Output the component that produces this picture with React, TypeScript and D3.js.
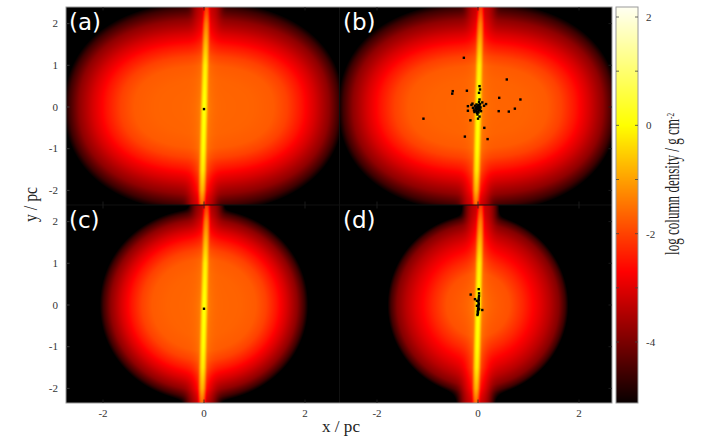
import React, { useMemo } from "react";
import * as d3 from "d3";

const W = 707, H = 442;
const columns = [{ left: 66, right: 339, zero: 204 }, { left: 340, right: 612, zero: 478 }];
const rows = [{ top: 7, bottom: 205, zero: 107 }, { top: 205, bottom: 403, zero: 305 }];
const pxPerX = 50.5, pxPerY = 41.7;

const xTicks = [-2, 0, 2];
const yTicks = [-2, -1, 0, 1, 2];
const cbTicks = [2, 0, -2, -4];
const cbMinorTicks = [1, -1, -3];

// colour map: log column density -> colour
const cmapValues = [-5.2, -2.7, 0, 2.3];
const cmapColors = ["#000000", "#ff0000", "#ffff00", "#ffffff"];

// envelope radial profiles (normalised radius -> log density)
const profileR = [0, 0.35, 0.5, 0.6, 0.7, 0.8, 0.9, 0.97, 1.03];
const profileWide = [-1.62, -1.66, -1.75, -2.02, -2.5, -3.1, -3.8, -4.6, -5.6];
const profileNarrow = [-1.6, -1.85, -2.3, -2.65, -3.0, -3.4, -3.9, -4.6, -5.6];

// thin disc: y -> peak log density
const stripY = [-2.4, -2, -1.5, -1, 0, 1, 1.5, 2, 2.4];
const stripV = [-1.8, -0.85, -0.25, -0.05, 0.05, -0.2, -0.75, -1.4, -2.2];

const panelLabels = ["(a)", "(b)", "(c)", "(d)"];
const semiX = [2.75, 2.75, 2.05, 1.78];
const semiY = [2.5, 2.5, 2.3, 2.16];
const shapeExp = [2.25, 2.25, 2.05, 2.0];
const aniso = [0.45, 0.45, 0.1, 0];
const sheathLevel = [-3.3, -3.3, -3.6, -3.3];
const panelProfiles = [profileWide, profileWide, profileWide, profileNarrow];

const starsA: [number, number][] = [[0, -0.05]];
const starsB: [number, number][] = [
  [-0.28, 1.18], [0.57, 0.66], [0.03, 0.5], [0.04, 0.42], [0.02, 0.34], [-0.22, 0.39], [-0.5, 0.38], [-0.51, 0.32],
  [0.42, 0.22], [0.84, 0.18], [0.03, 0.18], [0.02, 0.12], [0.16, 0.07], [0.085, 0.11], [-0.11, 0.08], [-0.2, 0.02],
  [0.12, 0.03], [0.41, -0.1], [0.61, -0.11], [0.73, -0.04], [-1.08, -0.28], [-0.15, -0.32], [0, -0.28], [0.03, -0.23],
  [0.125, -0.5], [-0.26, -0.71], [0.19, -0.77], [-0.2, -0.09], [-0.13, 0.05], [-0.1, -0.02], [-0.08, -0.08],
  [-0.06, 0.03], [-0.05, -0.03], [-0.04, -0.1], [-0.03, 0.06], [-0.02, -0.06], [-0.02, -0.14], [-0.01, 0.01],
  [0, -0.04], [0, -0.11], [0.01, 0.05], [0.02, -0.02], [0.02, -0.08], [0.03, 0.02], [0.04, -0.06], [0.05, -0.01],
  [-0.04, -0.04], [-0.02, 0], [0, 0.03], [0.01, -0.13], [-0.01, -0.18], [0.06, -0.1], [0.04, 0.07], [-0.07, -0.12],
];
const starsC: [number, number][] = [[0, -0.09]];
const starsD: [number, number][] = [
  [-0.145, 0.25], [0.014, 0.38], [0.085, -0.12], [-0.06, 0.14], [0.02, 0.28], [0.02, 0.22], [0.015, 0.17],
  [0.015, 0.12], [-0.02, 0.1], [0.01, 0.07], [0.015, 0.03], [0.01, 0], [0.005, -0.03], [0.01, -0.06], [0, -0.09],
  [0.005, -0.12], [-0.005, -0.15], [0, -0.18], [-0.005, -0.21], [-0.01, -0.24], [0.02, -0.1], [-0.02, -0.02],
];
const stars = [starsA, starsB, starsC, starsD];

const colorScale = d3.scaleLinear<string>().domain(cmapValues).range(cmapColors).clamp(true);
const strip = d3.scaleLinear().domain(stripY).range(stripV);

function panelImage(i: number, w: number, h: number, zx: number, zy: number): string {
  const profile = d3.scaleLinear().domain(profileR).range(panelProfiles[i]);
  const c = document.createElement("canvas");
  c.width = w; c.height = h;
  const ctx = c.getContext("2d")!;
  const img = ctx.createImageData(w, h);
  const p = shapeExp[i];
  for (let py = 0; py < h; py++) {
    for (let px = 0; px < w; px++) {
      const x = (px + 0.5 - zx) / pxPerX;
      const y = (zy - py - 0.5) / pxPerY;
      const ax = Math.abs(x / semiX[i]), ay = Math.abs(y / semiY[i]);
      const R0 = Math.pow(ax ** p + ay ** p, 1 / p);
      const stretch = 1 + aniso[i] * Math.max(0, 1 - R0);
      const R = Math.pow(ax ** p + (ay * stretch) ** p, 1 / p);
      const env = Math.pow(10, profile(R));
      const dx = x - (0.005 + 0.02 * y);
      const sv = strip(y);
      const core = Math.pow(10, sv) * Math.exp(-(dx * dx) / (2 * 0.028 * 0.028));
      const halo = Math.pow(10, sv - 1.3) * Math.exp(-Math.abs(dx) / 0.07);
      const sheath = Math.pow(10, sheathLevel[i]) * Math.exp(-Math.pow(Math.abs(dx) / 0.22, 3));
      const v = Math.log10(env + core + halo + sheath);
      const col = d3.rgb(colorScale(v));
      const k = (py * w + px) * 4;
      img.data[k] = col.r; img.data[k + 1] = col.g; img.data[k + 2] = col.b; img.data[k + 3] = 255;
    }
  }
  ctx.putImageData(img, 0, 0);
  return c.toDataURL();
}

function barImage(h: number, scale: d3.ScaleLinear<number, number>): string {
  const c = document.createElement("canvas");
  c.width = 1; c.height = h;
  const ctx = c.getContext("2d")!;
  for (let p = 0; p < h; p++) {
    ctx.fillStyle = colorScale(scale.invert(p + 0.5));
    ctx.fillRect(0, p, 1, 1);
  }
  return c.toDataURL();
}

const serif = "'Liberation Serif', serif";
const frame = "#9a9a9a";

export default function App() {
  const cbScale = useMemo(() => d3.scaleLinear().domain([2, -4]).range([17, 342]), []);
  const cbTop = 7, cbBottom = 403, cbLeft = 616, cbRight = 638;
  const images = useMemo(() => {
    const out: { i: number; href: string; x: number; y: number; w: number; h: number }[] = [];
    rows.forEach((r, ri) => columns.forEach((col, ci) => {
      const i = ri * 2 + ci;
      const w = col.right - col.left, h = r.bottom - r.top;
      out.push({ i, href: panelImage(i, w, h, col.zero - col.left, r.zero - r.top), x: col.left, y: r.top, w, h });
    }));
    return out;
  }, []);
  const bar = useMemo(() => {
    const s = cbScale.copy().range([17 - cbTop, 342 - cbTop]);
    return barImage(cbBottom - cbTop, s);
  }, [cbScale]);

  return (
    <svg width={W} height={H} style={{ position: "absolute", left: 0, top: 0, background: "#fff" }}>
      {images.map(im => {
        const col = columns[im.i % 2], r = rows[Math.floor(im.i / 2)];
        const sx = d3.scaleLinear().domain([0, 1]).range([col.zero, col.zero + pxPerX]);
        const sy = d3.scaleLinear().domain([0, 1]).range([r.zero, r.zero - pxPerY]);
        return (
          <g key={im.i}>
            <image href={im.href} x={im.x} y={im.y} width={im.w} height={im.h} style={{ imageRendering: "pixelated" }} />
            {stars[im.i].map((p, k) => (
              <rect key={k} x={sx(p[0]) - 1.2} y={sy(p[1]) - 1.2} width={2.4} height={2.4} fill="#000" />
            ))}
            <text x={im.x + 3} y={im.y + 23} fill="#fff" fontFamily="'DejaVu Sans', sans-serif" fontSize={23}>
              {panelLabels[im.i]}
            </text>
          </g>
        );
      })}
      {/* panel frames and ticks */}
      <line x1={66} x2={612} y1={205} y2={205} stroke="#111" strokeWidth={1} />
      <line x1={339.5} x2={339.5} y1={7} y2={403} stroke="#111" strokeWidth={1} />
      <rect x={66} y={7} width={546} height={396} fill="none" stroke={frame} strokeWidth={1} />
      {columns.map((col, ci) => xTicks.map(t => {
        const x = col.zero + t * pxPerX;
        return (
          <g key={`${ci}${t}`}>
            {rows.map((r, ri) => (
              <g key={ri}>
                <line x1={x} x2={x} y1={r.top} y2={r.top + 3.5} stroke="#222" strokeWidth={0.8} />
                <line x1={x} x2={x} y1={r.bottom} y2={r.bottom - 3.5} stroke="#222" strokeWidth={0.8} />
              </g>
            ))}
            <text x={x} y={417} textAnchor="middle" fontFamily={serif} fontSize={11} fill="#333">{t}</text>
          </g>
        );
      }))}
      {rows.map((r, ri) => yTicks.map(t => {
        const y = r.zero - t * pxPerY;
        return (
          <g key={`${ri}${t}`}>
            <line x1={66} x2={69.5} y1={y} y2={y} stroke="#444" strokeWidth={0.8} />
            <line x1={612} x2={608.5} y1={y} y2={y} stroke="#222" strokeWidth={0.8} />
            <text x={58} y={y + 3.5} textAnchor="end" fontFamily={serif} fontSize={11} fill="#333">{t}</text>
          </g>
        );
      }))}
      <text x={341} y={432} textAnchor="middle" fontFamily={serif} fontSize={16} fill="#222" textLength={38} lengthAdjust="spacingAndGlyphs">x / pc</text>
      <text transform="translate(36.5,204.5) rotate(-90)" textAnchor="middle" fontFamily={serif} fontSize={19} fill="#222" textLength={35} lengthAdjust="spacingAndGlyphs">y / pc</text>

      {/* colour bar */}
      <image href={bar} x={cbLeft} y={cbTop} width={cbRight - cbLeft} height={cbBottom - cbTop} preserveAspectRatio="none" />
      <rect x={cbLeft} y={cbTop} width={cbRight - cbLeft} height={cbBottom - cbTop} fill="none" stroke={frame} strokeWidth={1} />
      {[...cbTicks, ...cbMinorTicks].map(t => (
        <g key={t}>
          <line x1={cbLeft} x2={cbLeft + 3} y1={cbScale(t)} y2={cbScale(t)} stroke="#444" strokeWidth={0.8} />
          <line x1={cbRight} x2={cbRight - 3} y1={cbScale(t)} y2={cbScale(t)} stroke="#444" strokeWidth={0.8} />
        </g>
      ))}
      {cbTicks.map(t => (
        <text key={t} x={646} y={cbScale(t) + 4} fontFamily={serif} fontSize={11} fill="#333">{t}</text>
      ))}
      <text transform="translate(679,255) rotate(-90)" fontFamily={serif} fontSize={20} fill="#222" textLength={142} lengthAdjust="spacingAndGlyphs">
        log column density / g cm<tspan dy={-5} fontSize={11}>-2</tspan>
      </text>
    </svg>
  );
}
